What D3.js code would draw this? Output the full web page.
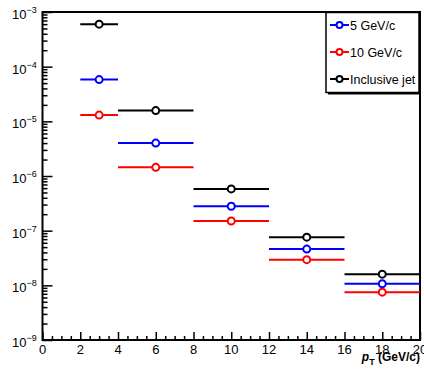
<!DOCTYPE html>
<html>
<head>
<meta charset="utf-8">
<script src="https://cdn.jsdelivr.net/npm/d3@7"></script>
<style>
  body { margin: 0; background: #fff; }
  svg { font-family: "Liberation Sans", Arial, sans-serif; }
</style>
</head>
<body>
<div id="chart"></div>
<script>
// pT bins (GeV/c)
const binLow = [2, 4, 8, 12, 16];
const binHigh = [4, 8, 12, 16, 20];
const binCenter = [3, 6, 10, 14, 18];

// yields per series
const gev5 = [5.8e-5, 4.0e-6, 2.8e-7, 4.6e-8, 1.07e-8];
const gev10 = [1.3e-5, 1.44e-6, 1.5e-7, 2.95e-8, 7.5e-9];
const inclusive = [6.0e-4, 1.57e-5, 5.8e-7, 7.6e-8, 1.6e-8];

const seriesNames = ["5 GeV/c", "10 GeV/c", "Inclusive jet"];
const seriesColors = ["#0000ff", "#ff0000", "#000000"];
const seriesValues = [gev5, gev10, inclusive];

const xTicks = [0, 2, 4, 6, 8, 10, 12, 14, 16, 18, 20];
const yDecades = [-9, -8, -7, -6, -5, -4, -3];

const width = 424, height = 372;
const margin = {top: 12, left: 42.5, right: 4, bottom: 32};

const svg = d3.select("#chart").append("svg")
    .attr("width", width)
    .attr("height", height);

const xScale = d3.scaleLinear()
    .domain([0, 20])
    .range([margin.left, width - margin.right]);

const yScale = d3.scaleLog()
    .domain([1e-9, 1e-3])
    .range([height - margin.bottom, margin.top]);

// frame
svg.append("rect")
    .attr("x", xScale(0))
    .attr("y", yScale(1e-3))
    .attr("width", xScale(20) - xScale(0))
    .attr("height", yScale(1e-9) - yScale(1e-3))
    .attr("fill", "none")
    .attr("stroke", "#000")
    .attr("stroke-width", 2);

// y ticks: majors at decades, minors at 2..9
const yMinor = [];
yDecades.slice(0, -1).forEach(e => {
    for (let k = 2; k <= 9; k++) yMinor.push(k * Math.pow(10, e));
});
svg.append("g")
    .attr("transform", `translate(${xScale(0)},0)`)
    .call(d3.axisRight(yScale).tickValues(yMinor).tickSize(5).tickFormat(""))
    .call(g => g.select(".domain").remove())
    .call(g => g.selectAll("line").attr("stroke-width", 1.5));
svg.append("g")
    .attr("transform", `translate(${xScale(0)},0)`)
    .call(d3.axisRight(yScale).tickValues(yDecades.map(e => Math.pow(10, e))).tickSize(10).tickFormat(""))
    .call(g => g.select(".domain").remove())
    .call(g => g.selectAll("line").attr("stroke-width", 1.5));

// y labels 10^n
const yLab = svg.append("g");
yDecades.forEach(e => {
    const t = yLab.append("text")
        .attr("x", 12)
        .attr("y", yScale(Math.pow(10, e)) + 7)
        .attr("font-size", 13);
    t.append("tspan").text("10");
    t.append("tspan").attr("dy", -6).attr("font-size", 9).text(String(e).replace("-", "\u2212"));
});

// x ticks
const xMinor = d3.range(0, 20.01, 0.5).filter(v => v % 2 !== 0);
svg.append("g")
    .attr("transform", `translate(0,${yScale(1e-9)})`)
    .call(d3.axisTop(xScale).tickValues(xMinor).tickSize(4).tickFormat(""))
    .call(g => g.select(".domain").remove())
    .call(g => g.selectAll("line").attr("stroke-width", 1.5));
svg.append("g")
    .attr("transform", `translate(0,${yScale(1e-9)})`)
    .call(d3.axisTop(xScale).tickValues(xTicks).tickSize(8).tickFormat(""))
    .call(g => g.select(".domain").remove())
    .call(g => g.selectAll("line").attr("stroke-width", 1.5));

svg.append("g").selectAll("text")
    .data(xTicks)
    .join("text")
    .attr("x", d => xScale(d))
    .attr("y", yScale(1e-9) + 14)
    .attr("text-anchor", "middle")
    .attr("font-size", 13)
    .text(d => d);

// x axis title
const xt = svg.append("text")
    .attr("x", width - 4)
    .attr("y", height - 11)
    .attr("text-anchor", "end")
    .attr("font-size", 12)
    .attr("font-weight", "bold");
xt.append("tspan").attr("font-style", "italic").text("p");
xt.append("tspan").attr("dy", 4).attr("font-size", 9).text("T");
xt.append("tspan").attr("dy", -4).text(" (GeV/c)");

// data: horizontal bin bars + open circle markers
const plot = svg.append("g");
seriesValues.forEach((vals, si) => {
    const rows = vals.map((v, i) => ({v: v, lo: binLow[i], hi: binHigh[i], c: binCenter[i]}));
    const g = plot.append("g");
    g.selectAll("line")
        .data(rows)
        .join("line")
        .attr("x1", d => xScale(d.lo))
        .attr("x2", d => xScale(d.hi))
        .attr("y1", d => yScale(d.v))
        .attr("y2", d => yScale(d.v))
        .attr("stroke", seriesColors[si])
        .attr("stroke-width", 2);
    g.selectAll("circle")
        .data(rows)
        .join("circle")
        .attr("cx", d => xScale(d.c))
        .attr("cy", d => yScale(d.v))
        .attr("r", 3.5)
        .attr("fill", "#fff")
        .attr("stroke", seriesColors[si])
        .attr("stroke-width", 2);
});

// legend
const lg = {x: 326, y: 12.5, w: 93, h: 80};
svg.append("rect")
    .attr("x", lg.x + 2).attr("y", lg.y + 2)
    .attr("width", lg.w).attr("height", lg.h)
    .attr("fill", "#000");
svg.append("rect")
    .attr("x", lg.x).attr("y", lg.y)
    .attr("width", lg.w).attr("height", lg.h)
    .attr("fill", "#fff")
    .attr("stroke", "#000")
    .attr("stroke-width", 1.5);

const entries = svg.append("g").selectAll("g")
    .data(seriesNames)
    .join("g")
    .attr("transform", (d, i) => `translate(0,${25 + i * 27})`);
entries.append("line")
    .attr("x1", 330).attr("x2", 349)
    .attr("stroke", (d, i) => seriesColors[i])
    .attr("stroke-width", 2);
entries.append("circle")
    .attr("cx", 339.5).attr("r", 3)
    .attr("fill", "#fff")
    .attr("stroke", (d, i) => seriesColors[i])
    .attr("stroke-width", 2);
entries.append("text")
    .attr("x", 350)
    .attr("y", 4.5)
    .attr("font-size", 12.5)
    .text(d => d);
</script>
</body>
</html>
